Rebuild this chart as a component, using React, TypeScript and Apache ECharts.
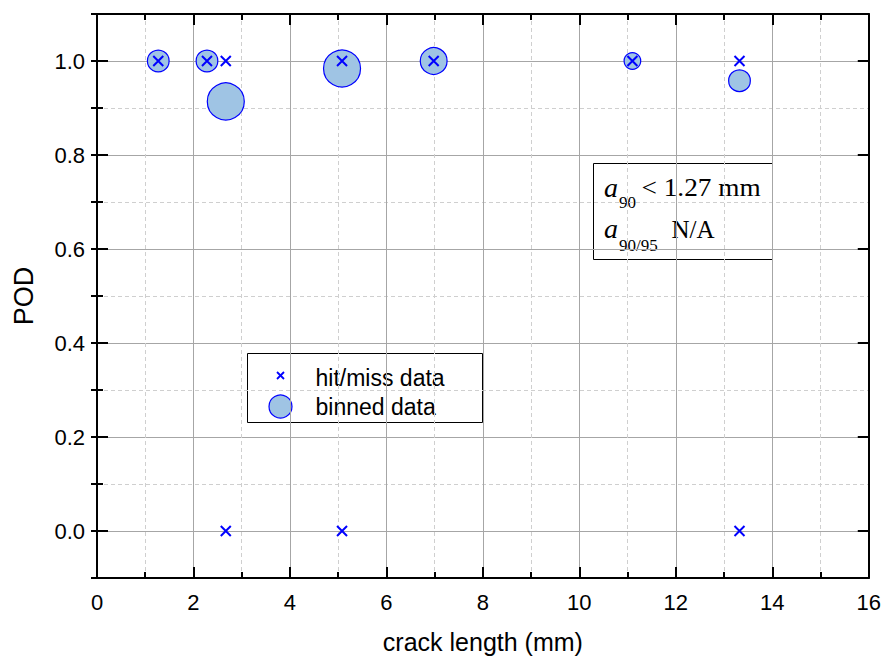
import React, { useEffect, useRef } from "react";
import * as echarts from "echarts";

// Individual hit/miss inspection results (1 = hit, 0 = miss)
const hitMissLength = [1.27, 2.28, 2.67, 2.67, 5.08, 5.08, 6.98, 11.1, 13.32, 13.32];
const hitMissResult = [1, 1, 1, 0, 1, 0, 1, 1, 1, 0];

// Binned POD estimates and number of flaws per bin
const binLength = [1.27, 2.28, 2.67, 5.08, 6.98, 11.1, 13.32];
const binPOD = [1, 1, 0.914, 0.984, 1, 1, 0.958];
const binCount = [2, 2, 5, 5, 3, 1, 2];

const SANS = "'Liberation Sans', Arial, sans-serif";
const SERIF = "'Liberation Serif', 'Times New Roman', serif";
const BLUE = "#0000ff";
const FILL = "#9fc4e4";
const MAJOR_GRID = "#a6a6a6";
const MINOR_GRID = "#cfcfcf";

const bubbleDiameter = (n: number) => 11.5 + 5.1 * n;

const crossPath = "path://M0,0L10,10M10,0L0,10";

export default function App() {
  const ref = useRef<HTMLDivElement>(null);

  useEffect(() => {
    if (!ref.current) return;
    const chart = echarts.init(ref.current, null, { renderer: "svg" });

    const tickStyle = { color: "#000", width: 2 };
    const majorX = (pos: "bottom" | "top", main: boolean) => ({
      type: "value" as const,
      position: pos,
      min: 0,
      max: 16,
      interval: 2,
      axisLine: { show: true, onZero: false, lineStyle: { color: "#000", width: 2 } },
      axisTick: { show: true, inside: true, length: 11, lineStyle: tickStyle },
      minorTick: { show: true, splitNumber: 2, length: 6, lineStyle: tickStyle },
      axisLabel: main
        ? { show: true, color: "#000", fontSize: 22, fontFamily: SANS, margin: 13 }
        : { show: false },
      splitLine: main ? { show: true, lineStyle: { color: MAJOR_GRID, width: 1 } } : { show: false },
      minorSplitLine: main
        ? { show: true, lineStyle: { color: MINOR_GRID, width: 1, type: [4, 3] } }
        : { show: false },
      name: main ? "crack length (mm)" : "",
      nameLocation: "middle" as const,
      nameGap: 51,
      nameTextStyle: { color: "#000", fontSize: 25, fontFamily: SANS },
    });

    const majorY = (pos: "left" | "right", main: boolean) => ({
      type: "value" as const,
      position: pos,
      min: -0.1,
      max: 1.1,
      splitNumber: 6,
      axisLine: { show: true, onZero: false, lineStyle: { color: "#000", width: 2 } },
      axisTick: { show: true, inside: true, length: 11, lineStyle: tickStyle },
      axisLabel: main
        ? {
            show: true,
            color: "#000",
            fontSize: 22,
            fontFamily: SANS,
            margin: 12,
            formatter: (v: number) => (v < -0.01 || v > 1.05 ? "" : v.toFixed(1)),
          }
        : { show: false },
      splitLine: main
        ? { show: true, showMinLine: false, showMaxLine: false, lineStyle: { color: MAJOR_GRID, width: 1 } }
        : { show: false },
      name: main ? "POD" : "",
      nameLocation: "middle" as const,
      nameGap: 60,
      nameTextStyle: { color: "#000", fontSize: 27, fontFamily: SANS },
    });

    // Fine axis at every 0.1 for minor ticks and dashed minor grid
    const minorY = (pos: "left" | "right", main: boolean) => ({
      type: "value" as const,
      position: pos,
      min: -0.1,
      max: 1.1,
      interval: 0.1,
      axisLine: { show: false },
      axisTick: { show: true, inside: true, length: 6, lineStyle: tickStyle },
      axisLabel: { show: false },
      splitLine: main
        ? { show: true, lineStyle: { color: [MINOR_GRID, "rgba(0,0,0,0)"], width: 1, type: [4, 3] } }
        : { show: false },
    });

    const hitMissData = hitMissLength.map((x, i) => [x, hitMissResult[i]]);
    const binData = binLength.map((x, i) => [x, binPOD[i], binCount[i]]);

    const serif = (
      text: string,
      x: number,
      y: number,
      size: number,
      opts: { italic?: boolean; scaleX?: number } = {}
    ) => ({
      type: "text",
      x,
      y,
      scaleX: opts.scaleX ?? 1,
      style: {
        text,
        fill: "#000",
        font: `${opts.italic ? "italic " : ""}${size}px ${SERIF}`,
        verticalAlign: "middle",
      },
    });

    chart.setOption({
      animation: false,
      backgroundColor: "#fff",
      grid: { left: 97, right: 14, top: 14, bottom: 80, containLabel: false },
      xAxis: [majorX("bottom", true), majorX("top", false)],
      yAxis: [
        minorY("left", true),
        majorY("left", true),
        minorY("right", false),
        majorY("right", false),
      ],
      series: [
        {
          name: "binned data",
          type: "scatter",
          xAxisIndex: 0,
          yAxisIndex: 1,
          data: binData,
          symbol: "circle",
          symbolSize: (v: number[]) => bubbleDiameter(v[2]),
          itemStyle: { color: FILL, borderColor: BLUE, borderWidth: 1.2, opacity: 1 },
          z: 3,
        },
        {
          name: "hit/miss data",
          type: "scatter",
          xAxisIndex: 0,
          yAxisIndex: 1,
          data: hitMissData,
          symbol: crossPath,
          symbolSize: 10,
          itemStyle: { color: "rgba(0,0,0,0)", borderColor: BLUE, borderWidth: 2, opacity: 1 },
          z: 4,
        },
      ],
      graphic: [
        // legend
        {
          type: "group",
          left: 247,
          top: 353,
          children: [
            {
              type: "rect",
              shape: { x: 0, y: 0, width: 235, height: 69 },
              style: { fill: "#fff", stroke: "#000", lineWidth: 1 },
            },
            {
              type: "line",
              shape: { x1: 29.5, y1: 18.5, x2: 36.5, y2: 25.5 },
              style: { stroke: BLUE, lineWidth: 1.8 },
            },
            {
              type: "line",
              shape: { x1: 36.5, y1: 18.5, x2: 29.5, y2: 25.5 },
              style: { stroke: BLUE, lineWidth: 1.8 },
            },
            {
              type: "circle",
              shape: { cx: 33, cy: 53, r: 11.5 },
              style: { fill: FILL, stroke: BLUE, lineWidth: 1.2 },
            },
            {
              type: "text",
              x: 68,
              y: 24,
              style: { text: "hit/miss data", fill: "#000", font: `23px ${SANS}`, verticalAlign: "middle" },
            },
            {
              type: "text",
              x: 68,
              y: 53,
              style: { text: "binned data", fill: "#000", font: `23px ${SANS}`, verticalAlign: "middle" },
            },
          ],
          z: 10,
        },
        // detection-size annotation
        {
          type: "group",
          left: 593,
          top: 163,
          children: [
            {
              type: "rect",
              shape: { x: 0, y: 0, width: 179, height: 96 },
              style: { fill: "#fff", stroke: "#000", lineWidth: 1 },
            },
            serif("a", 10.5, 23.5, 28, { italic: true }),
            serif("90", 25.5, 39.3, 17),
            serif("< 1.27 mm", 48, 24.2, 26, { scaleX: 1.05 }),
            serif("a", 10.5, 64.9, 28, { italic: true }),
            serif("90/95", 25.5, 81.6, 17),
            serif("N/A", 78, 65.6, 25),
          ],
          z: 10,
        },
      ],
    });

    return () => chart.dispose();
  }, []);

  return (
    <div
      ref={ref}
      style={{ position: "fixed", left: 0, top: 0, width: 884, height: 659, background: "#fff" }}
    />
  );
}
